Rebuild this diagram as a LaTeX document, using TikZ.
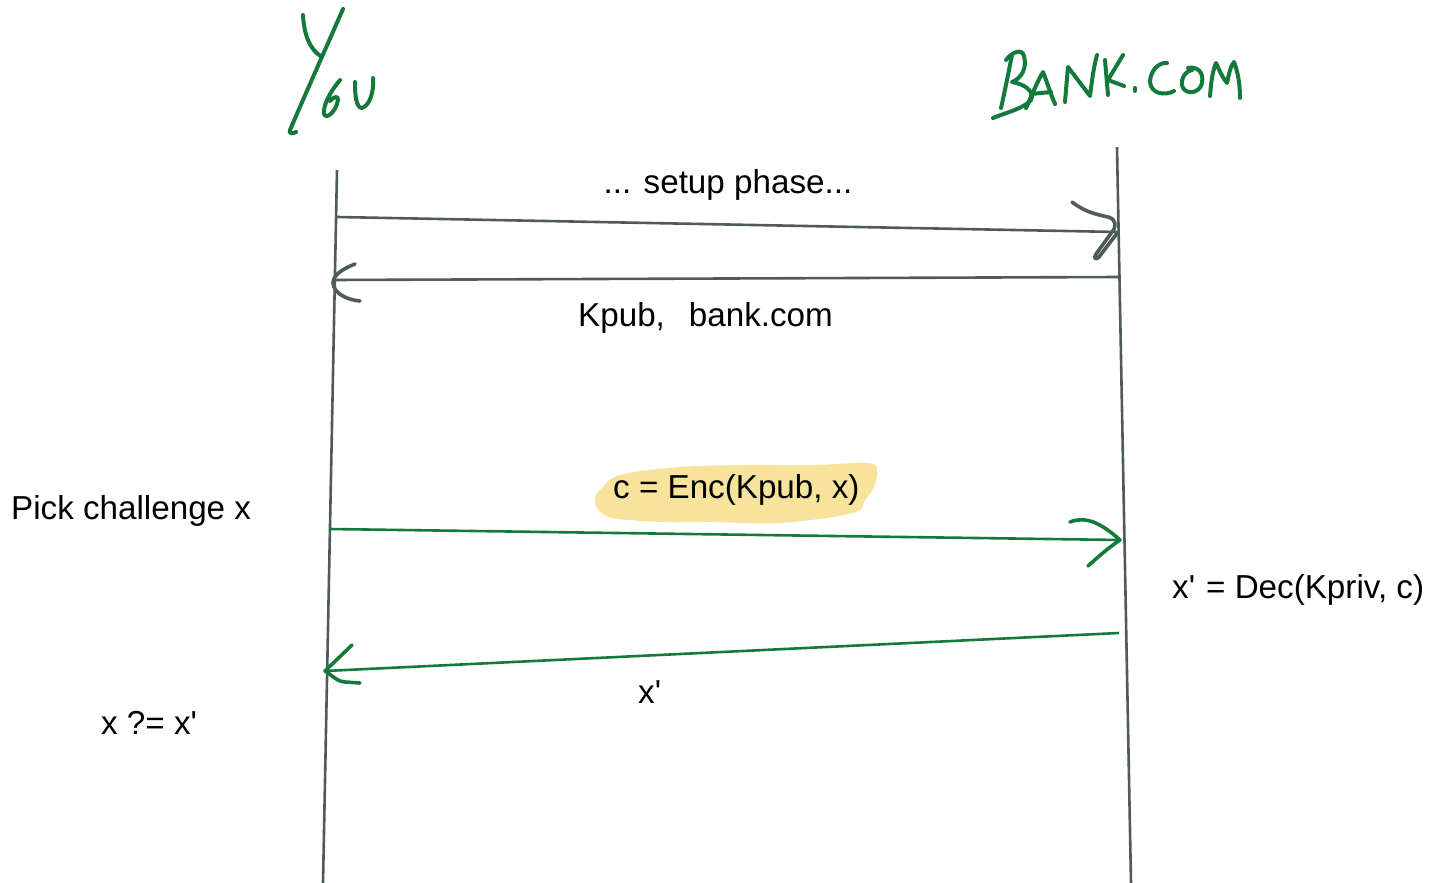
\documentclass[tikz,border=0pt]{standalone}
\usepackage{fontspec}
\setmainfont{Liberation Sans}[Ligatures=TeXOff]
\definecolor{ink}{HTML}{4F5B59}
\definecolor{pen}{HTML}{137A3C}
\definecolor{marker}{HTML}{F8E39C}
\begin{document}
\begin{tikzpicture}[x=1pt,y=-1pt,
  lifeline/.style={draw=ink,line width=2.6pt},
  msg/.style={line width=2.6pt},
  tip/.style={line width=3.6pt,line cap=round,line join=round},
  hand/.style={draw=pen,line width=4pt,line cap=round,line join=round},
  lbl/.style={inner sep=0pt,font=\fontsize{33.2}{39}\selectfont}]
\useasboundingbox (0,0) rectangle (1444,883);

% lifelines
\coordinate (youTop) at (337,170);
\coordinate (youBot) at (323,883);
\coordinate (bankTop) at (1117,147);
\coordinate (bankBot) at (1131,883);
\draw[lifeline] (youTop) -- (youBot);
\draw[lifeline] (bankTop) -- (bankBot);

% handwritten party names
\draw[hand] (303,15) .. controls (304,35) and (310,50) .. (322,57);
\draw[hand] (343,9) .. controls (325,50) and (305,95) .. (290,130) .. controls (289,134) and (292,134) .. (296,132);
\draw[hand] (340,80) .. controls (330,92) and (323,105) .. (324,114) .. controls (326,120) and (336,112) .. (338,100) .. controls (339,95) and (333,97) .. (330,101);
\draw[hand] (355,82) .. controls (355,95) and (356,108) .. (362,108) .. controls (370,105) and (374,92) .. (373,78);

\draw[hand] (1012,55) .. controls (1008,75) and (1004,95) .. (1001,108);
\draw[hand] (1006,60) .. controls (1012,52) and (1022,48) .. (1024,56) .. controls (1027,68) and (1022,78) .. (1012,82) .. controls (1025,84) and (1035,92) .. (1031,100) .. controls (1025,108) and (1005,113) .. (993,118);
\draw[hand] (1026,108) .. controls (1032,95) and (1037,82) .. (1043,72) .. controls (1047,82) and (1051,95) .. (1055,104);
\draw[hand] (1031,94) -- (1051,92);
\draw[hand] (1065,102) .. controls (1066,90) and (1067,78) .. (1068,67) -- (1090,96) .. controls (1092,80) and (1094,65) .. (1097,55);
\draw[hand] (1105,60) -- (1108,95);
\draw[hand] (1123,55) -- (1108,80) -- (1124,86);
\draw[hand] (1135,88) -- (1135,91);
\draw[hand] (1167,63) .. controls (1158,62) and (1150,72) .. (1150,82) .. controls (1151,94) and (1165,96) .. (1174,91);
\draw[hand] (1192,70) .. controls (1183,72) and (1180,82) .. (1183,88) .. controls (1187,95) and (1200,93) .. (1202,83) .. controls (1204,72) and (1197,66) .. (1188,68);
\draw[hand] (1210,96) .. controls (1211,85) and (1212,72) .. (1216,63) .. controls (1220,72) and (1224,80) .. (1227,83) .. controls (1229,73) and (1231,65) .. (1234,62) .. controls (1238,72) and (1240,85) .. (1240,98);

% setup phase messages
\coordinate (m1s) at (337,217);
\coordinate (m1e) at (1118,232);
\draw[ink,msg] (m1s) -- (m1e);
\draw[ink,tip] (1072,202) .. controls (1085,212) and (1095,214) .. (1108,217) .. controls (1116,219) and (1117,226) .. (1112,232) -- (1096,254) .. controls (1093,259) and (1096,260) .. (1099,257) -- (m1e);

\coordinate (m2s) at (1119,277);
\coordinate (m2e) at (333,280);
\draw[ink,msg] (m2s) -- (m2e);
\draw[ink,tip] (355,264) .. controls (340,270) and (333,276) .. (333,283) .. controls (334,294) and (348,300) .. (360,301);

\node[lbl,anchor=base] (setup) at (728,193) {... setup phase...};
\node[lbl,anchor=base west] (kpub) at (578,326) {Kpub,\hspace{24pt}bank.com};

% challenge / response
\fill[marker] plot[smooth cycle,tension=0.6] coordinates {(600,490) (620,475) (680,467) (747,465) (813,465) (867,463) (877,470) (874,487) (865,500) (853,513) (780,523) (713,522) (663,522) (613,518) (597,508) (595,498)};
\node[lbl,anchor=base west] (enc) at (613,498) {c = Enc(Kpub, x)};

\coordinate (m3s) at (329,529);
\coordinate (m3e) at (1120,540);
\draw[pen,msg] (m3s) -- (m3e);
\draw[pen,tip] (1070,522) .. controls (1085,516) and (1100,522) .. (m3e) .. controls (1108,548) and (1098,557) .. (1088,566);

\coordinate (m4s) at (1119,633);
\coordinate (m4e) at (325,671);
\draw[pen,msg] (m4s) -- (m4e);
\draw[pen,tip] (352,645) -- (m4e) .. controls (333,676) and (338,682) .. (345,682) -- (360,683);

\node[lbl,anchor=base west] (pick) at (11,519) {Pick challenge x};
\node[lbl,anchor=base west] (dec) at (1172,598) {x'\hspace{11pt}= Dec(Kpriv, c)};
\node[lbl,anchor=base west] (xp) at (638,703) {x'};
\node[lbl,anchor=base west] (check) at (101,734) {x ?= x'};
\end{tikzpicture}
\end{document}
